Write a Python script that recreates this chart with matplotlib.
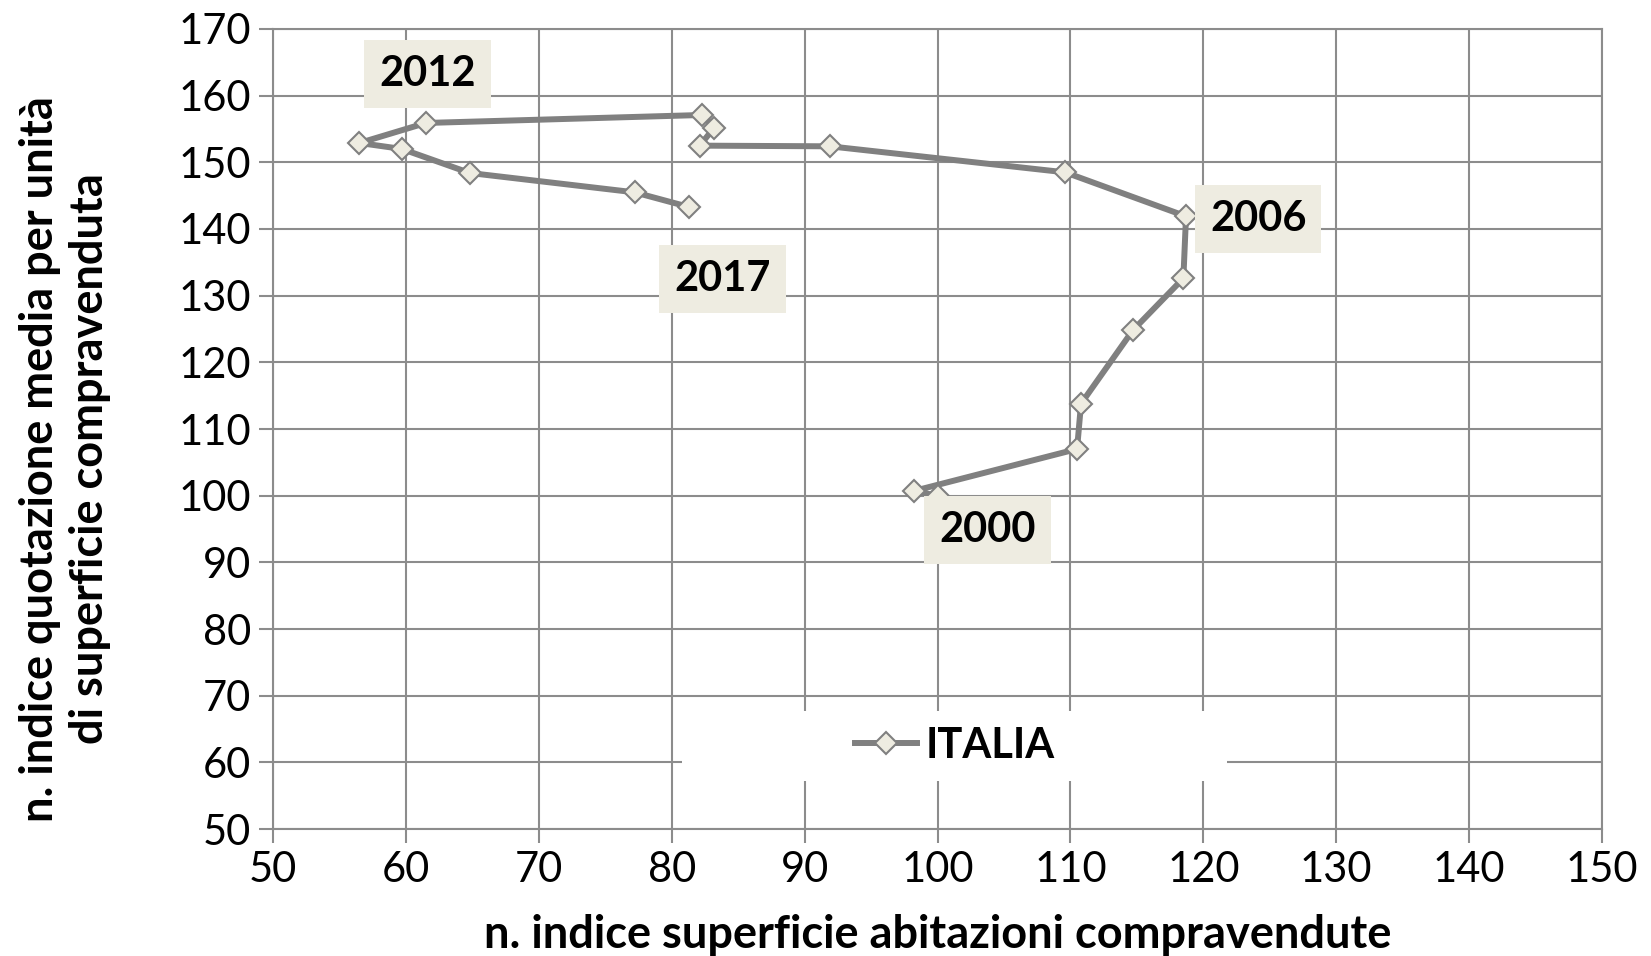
import numpy as np
import matplotlib.pyplot as plt
from matplotlib.patches import Rectangle

plt.rcParams['font.family'] = ['Lato', 'DejaVu Sans']

# Index values (2000 = 100), one point per year
years = list(range(2000, 2018))
superficie = [100.0, 98.2, 110.5, 110.8, 114.7, 118.5, 118.7, 109.6, 91.9,
              82.1, 83.2, 82.3, 61.5, 56.5, 59.7, 64.8, 77.2, 81.3]
quotazione = [100.0, 100.7, 107.0, 113.8, 124.8, 132.6, 141.9, 148.5, 152.4,
              152.5, 155.2, 157.1, 155.9, 152.9, 152.0, 148.4, 145.5, 143.3]

# Years that get a label, with their text offset (points)
label_years = [2000, 2006, 2012, 2017]
label_offsets = [(36, -25), (52, -2), (1, 35), (24, -52)]

gray = '#808080'
grid_gray = '#8c8c8c'
beige = '#EEECE1'

fig = plt.figure(figsize=(16.51, 9.56), dpi=100)
ax = fig.add_axes([0.1654, 0.1328, 0.8049, 0.8369])

ax.plot(superficie, quotazione, color=gray, lw=4.3, marker='D', ms=11,
        mfc=beige, mec=gray, mew=1.5, label='ITALIA', zorder=3)

for yr, (dx, dy) in zip(label_years, label_offsets):
    i = years.index(yr)
    ax.annotate(str(yr), (superficie[i], quotazione[i]), xytext=(dx, dy),
                textcoords='offset points', ha='center', va='center',
                fontsize=30, fontweight='bold', zorder=5,
                bbox=dict(boxstyle='square,pad=0.36', fc=beige, ec='none'))

ax.set_xlim(50, 150)
ax.set_ylim(50, 170)
ax.set_xticks(np.arange(50, 151, 10))
ax.set_yticks(np.arange(50, 171, 10))
ax.grid(True, color=grid_gray, lw=1.5, zorder=0)
ax.set_axisbelow(True)
for s in ax.spines.values():
    s.set_color(grid_gray)
    s.set_linewidth(1.5)
ax.tick_params(labelsize=30, length=10, width=1.5, color=grid_gray, pad=6)

# White panel behind the legend
ax.add_patch(Rectangle((0.308, 0.06), 0.41, 0.0875, transform=ax.transAxes,
                       fc='white', ec='none', zorder=1))
leg = ax.legend(loc='center', bbox_to_anchor=(0.513, 0.104), frameon=False,
                prop={'weight': 'bold', 'size': 30}, handlelength=1.5,
                handletextpad=0.2)

fig.text(0.568, 0.022, 'n. indice superficie abitazioni compravendute',
         ha='center', va='center', fontsize=32.5, fontweight='bold')
fig.text(0.0395, 0.52, 'n. indice quotazione media per unità\ndi superficie compravenduta',
         ha='center', va='center', rotation=90, fontsize=32.5, fontweight='bold',
         linespacing=1.25)

fig.savefig('out.png', dpi=100)
